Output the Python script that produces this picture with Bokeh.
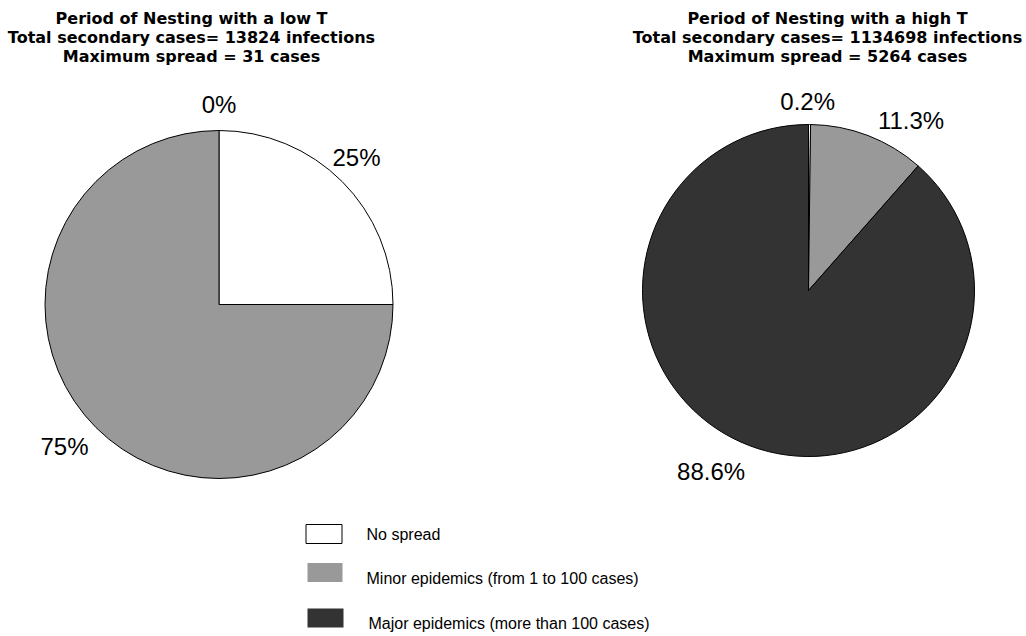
import math

from bokeh.core.properties import value
from bokeh.embed import file_html
from bokeh.models import ColumnDataSource, Range1d
from bokeh.plotting import figure
from bokeh.resources import INLINE

# --- data -------------------------------------------------------------------
categories = [
    "No spread",
    "Minor epidemics (from 1 to 100 cases)",
    "Major epidemics (more than 100 cases)",
]
low_t_share = [25, 75, 0]          # % of runs, nesting period with a low T
high_t_share = [0.2, 11.3, 88.6]   # % of runs, nesting period with a high T

low_t_title = [
    "Period of Nesting with a low T",
    "Total secondary cases= 13824 infections",
    "Maximum spread = 31 cases",
]
high_t_title = [
    "Period of Nesting with a high T",
    "Total secondary cases= 1134698 infections",
    "Maximum spread = 5264 cases",
]

# --- style ------------------------------------------------------------------
colors = ["#ffffff", "#999999", "#333333"]
W, H = 1026, 636
TITLE_FONT = value("DejaVu Sans")
BODY_FONT = value("Liberation Sans")


def Y(y):
    """Page coordinates grow downwards; the plot's y axis grows upwards."""
    return H - y


p = figure(
    width=W, height=H,
    x_range=Range1d(0, W), y_range=Range1d(0, H),
    output_backend="svg", toolbar_location=None,
    x_axis_location=None, y_axis_location=None,
    min_border=0,
)
p.grid.visible = False
p.outline_line_color = None
p.background_fill_color = "white"
p.border_fill_color = "white"


def pie(cx, cy, r, shares, title_lines, title_x, label_shift):
    total = float(sum(shares))
    cum = 0.0
    wx, wy, starts, ends, fills = [], [], [], [], []
    lx, ly, ltxt, xo, yo = [], [], [], [], []
    for share, color, (dx, dy) in zip(shares, colors, label_shift):
        a0 = cum / total
        a1 = (cum + share) / total
        cum += share
        if share > 0:
            # slices run clockwise from 12 o'clock
            wx.append(cx)
            wy.append(Y(cy))
            starts.append(math.pi / 2 - 2 * math.pi * a1)
            ends.append(math.pi / 2 - 2 * math.pi * a0)
            fills.append(color)
        mid = 2 * math.pi * (a0 + a1) / 2
        lx.append(cx + 1.15 * r * math.sin(mid))
        ly.append(Y(cy - 1.15 * r * math.cos(mid)))
        ltxt.append(f"{share:g}%")
        xo.append(dx)
        yo.append(dy)

    p.wedge(
        source=ColumnDataSource(dict(x=wx, y=wy, s=starts, e=ends, c=fills)),
        x="x", y="y", radius=r, start_angle="s", end_angle="e",
        fill_color="c", line_color="black", line_width=1,
    )
    p.text(
        source=ColumnDataSource(dict(x=lx, y=ly, t=ltxt, xo=xo, yo=yo)),
        x="x", y="y", text="t", x_offset="xo", y_offset="yo",
        text_font=BODY_FONT, text_font_size="24px", text_color="black",
        text_align="center", text_baseline="middle",
    )
    p.text(
        x=[title_x] * 3, y=[Y(18), Y(37), Y(56)], text=title_lines,
        text_font=TITLE_FONT, text_font_style="bold", text_font_size="16px",
        text_color="black", text_align="center", text_baseline="middle",
    )


pie(218.5, 304, 174, low_t_share, low_t_title, 191,
    [(-4, -6), (-13, 1), (0, 0)])
pie(808, 290, 166, high_t_share, high_t_title, 827,
    [(-2, 2), (34, 8), (-30, 2)])

# --- legend -----------------------------------------------------------------
legend_text_rows = [534, 578, 623]
legend_text_x = [366, 366, 368]
box_rows = [533.5, 572, 617.5]
p.quad(
    left=[305.5, 307, 307], right=[341.5, 342, 343],
    top=[Y(y - 9.5) for y in box_rows], bottom=[Y(y + 9.5) for y in box_rows],
    fill_color=colors, line_color=["black", None, None], line_width=1,
)
p.text(
    x=legend_text_x, y=[Y(y) for y in legend_text_rows], text=categories,
    text_font=BODY_FONT, text_font_size="16px", text_color="black",
    text_align="left", text_baseline="middle",
)

open("out.html", "w").write(file_html(p, INLINE))
